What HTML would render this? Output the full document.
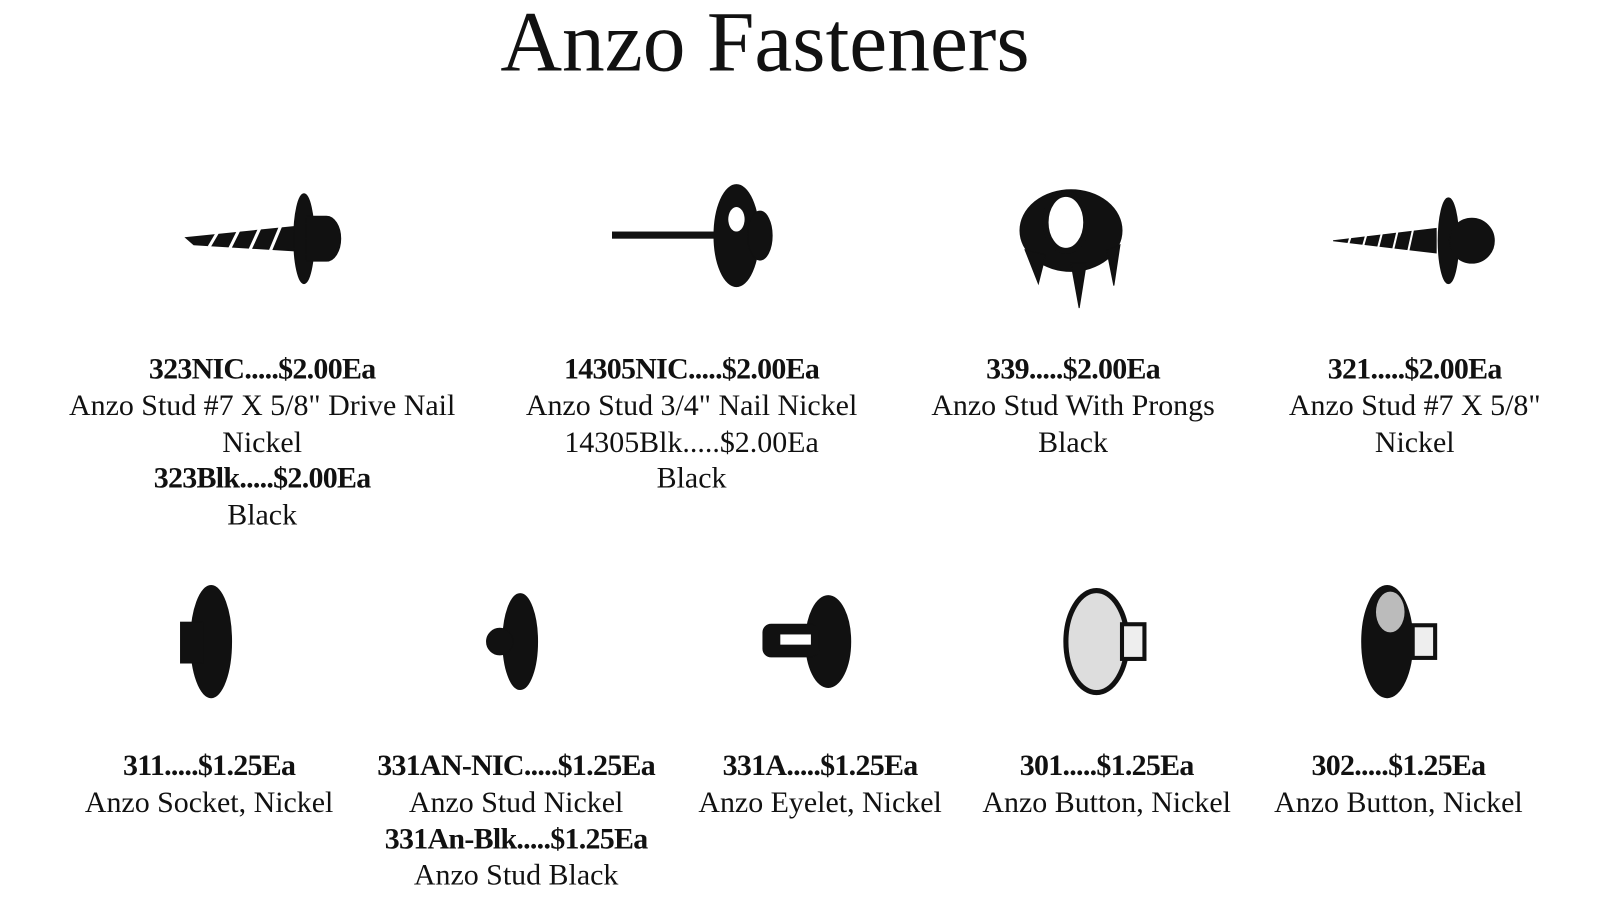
<!DOCTYPE html>
<html><head><meta charset="utf-8"><style>
html,body{margin:0;padding:0;background:#fff;width:1600px;height:898px;overflow:hidden;position:relative}
body{font-family:"Liberation Serif",serif;color:#111}
#w{position:absolute;left:0;top:0;width:1600px;height:898px;transform:scale(1.02);transform-origin:0 0}
h1{position:absolute;left:0;width:1500px;top:-3px;margin:0;text-align:center;font-weight:normal;font-size:83.8px;line-height:90px}
.c{position:absolute;text-align:center;font-size:29.35px;line-height:35.8px;white-space:nowrap;transform:translateX(-50%)}
.c b{font-weight:bold;letter-spacing:-0.7px}
svg{position:absolute;left:0;top:0}
</style></head><body><div id="w">
<h1>Anzo Fasteners</h1>
<svg width="1600" height="898" viewBox="0 0 1600 898">
<g fill="#111" stroke="#111">
<polygon points="182,233 290,222 290,246 190,240" />
<g stroke="#fff" stroke-width="3"><line x1="205" y1="242" x2="215" y2="225"/><line x1="225" y1="244" x2="235" y2="224"/><line x1="245" y1="245" x2="255" y2="223"/><line x1="265" y1="246" x2="275" y2="222"/></g>
<ellipse cx="298" cy="234" rx="10" ry="44"/>
<path d="M300,212 h20 a14,22 0 0 1 0,44 h-20z"/>
<rect x="600" y="227" width="105" height="7" stroke="none"/>
<ellipse cx="722" cy="231" rx="22" ry="50"/>
<ellipse cx="722" cy="215" rx="8" ry="12" fill="#fff" stroke="none"/>
<ellipse cx="745" cy="231" rx="12" ry="24"/>
<ellipse cx="1050" cy="226" rx="50" ry="40"/>
<ellipse cx="1045" cy="218" rx="20" ry="28" fill="#fff" stroke="#111" stroke-width="6"/>
<polygon points="1005,245 1018,278 1025,250" /><polygon points="1050,258 1058,302 1065,258" /><polygon points="1085,245 1092,280 1098,240" />
<polygon points="1307,236 1408,224 1408,248" />
<g stroke="#fff" stroke-width="2"><line x1="1320" y1="245" x2="1326" y2="226"/><line x1="1335" y1="246" x2="1341" y2="225"/><line x1="1350" y1="247" x2="1356" y2="224"/><line x1="1365" y1="248" x2="1371" y2="223"/><line x1="1380" y1="249" x2="1386" y2="222"/></g>
<ellipse cx="1420" cy="236" rx="10" ry="42"/>
<circle cx="1443" cy="236" r="22"/>
<ellipse cx="207" cy="629" rx="20" ry="55"/>
<rect x="177" y="610" width="22" height="40"/>
<ellipse cx="510" cy="629" rx="17" ry="47"/>
<circle cx="490" cy="629" r="13"/>
<ellipse cx="812" cy="629" rx="22" ry="45"/>
<rect x="748" y="612" width="55" height="32" rx="8"/>
<rect x="765" y="622" width="30" height="10" fill="#fff" stroke="none"/>
<ellipse cx="1075" cy="629" rx="30" ry="50" fill="#ddd" stroke-width="5"/>
<rect x="1100" y="612" width="22" height="34" stroke-width="4" fill="#eee"/>
<ellipse cx="1360" cy="629" rx="25" ry="55"/>
<ellipse cx="1363" cy="600" rx="14" ry="20" fill="#bbb" stroke="none"/>
<rect x="1385" y="613" width="22" height="32" stroke-width="4" fill="#eee"/>
</g>
</svg>
<div class="c" style="left:257px;top:345px"><b>323NIC.....$2.00Ea</b><br>Anzo Stud #7 X 5/8" Drive Nail<br>Nickel<br><b>323Blk.....$2.00Ea</b><br>Black</div>
<div class="c" style="left:678px;top:345px"><b>14305NIC.....$2.00Ea</b><br>Anzo Stud 3/4" Nail Nickel<br>14305Blk.....$2.00Ea<br>Black</div>
<div class="c" style="left:1052px;top:345px"><b>339.....$2.00Ea</b><br>Anzo Stud With Prongs<br>Black</div>
<div class="c" style="left:1387px;top:345px"><b>321.....$2.00Ea</b><br>Anzo Stud #7 X 5/8"<br>Nickel</div>
<div class="c" style="left:205px;top:734px"><b>311.....$1.25Ea</b><br>Anzo Socket, Nickel</div>
<div class="c" style="left:506px;top:734px"><b>331AN-NIC.....$1.25Ea</b><br>Anzo Stud Nickel<br><b>331An-Blk.....$1.25Ea</b><br>Anzo Stud Black</div>
<div class="c" style="left:804px;top:734px"><b>331A.....$1.25Ea</b><br>Anzo Eyelet, Nickel</div>
<div class="c" style="left:1085px;top:734px"><b>301.....$1.25Ea</b><br>Anzo Button, Nickel</div>
<div class="c" style="left:1371px;top:734px"><b>302.....$1.25Ea</b><br>Anzo Button, Nickel</div>
</div></body></html>
